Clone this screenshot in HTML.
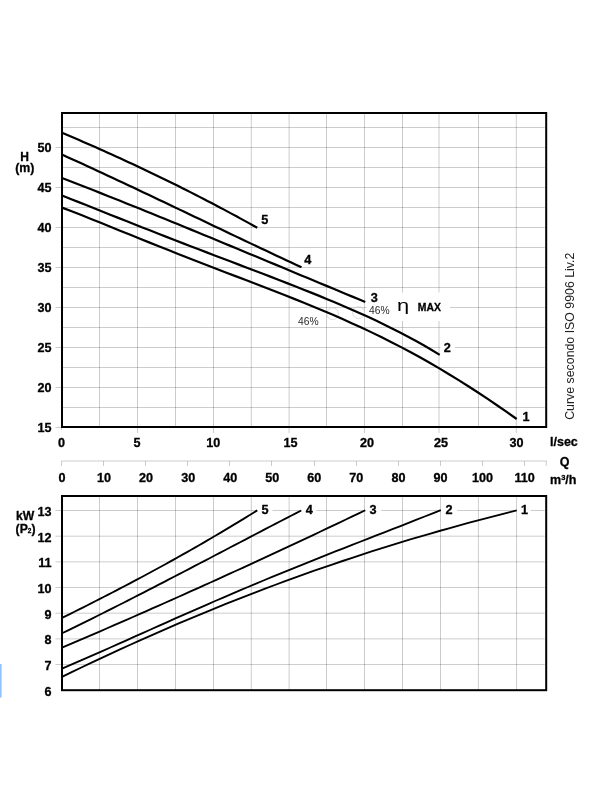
<!DOCTYPE html>
<html><head><meta charset="utf-8"><title>Pump curves</title>
<style>
html,body{margin:0;padding:0;background:#fff;}
body{width:600px;height:800px;overflow:hidden;}
svg{display:block;will-change:transform;font-family:"Liberation Sans",sans-serif;}
text{font-family:"Liberation Sans",sans-serif;}
</style></head><body>
<svg width="600" height="800" viewBox="0 0 600 800">
<rect x="0" y="0" width="600" height="800" fill="#fff"/>
<rect x="0" y="664" width="1.6" height="33.6" fill="#8fc3ff"/>
<path d="M99.50 113.00 V433.00 M137.50 113.00 V433.00 M175.50 113.00 V433.00 M213.50 113.00 V433.00 M251.30 113.00 V433.00 M289.10 113.00 V433.00 M326.50 113.00 V433.00 M364.50 113.00 V433.00 M402.50 113.00 V433.00 M439.00 113.00 V433.00 M478.50 113.00 V433.00 M516.30 113.00 V433.00" stroke="#000" stroke-opacity="0.2" stroke-width="1" fill="none"/>
<path d="M62.00 127.50 H544.70 M62.00 147.50 H544.70 M62.00 167.50 H544.70 M62.00 187.50 H544.70 M62.00 207.50 H544.70 M62.00 227.50 H544.70 M62.00 247.50 H544.70 M62.00 267.50 H544.70 M62.00 287.50 H544.70 M62.00 307.50 H544.70 M62.00 327.50 H544.70 M62.00 347.50 H544.70 M62.00 367.50 H544.70 M62.00 387.50 H544.70 M62.00 407.50 H544.70 M55.50 427.50 H62.00 M55.50 387.50 H62.00 M55.50 347.50 H62.00 M55.50 307.50 H62.00 M55.50 267.50 H62.00 M55.50 227.50 H62.00 M55.50 187.50 H62.00 M55.50 147.50 H62.00 M61.50 427.00 V430.00" stroke="#000" stroke-opacity="0.2" stroke-width="1" fill="none"/>
<rect x="98.0" y="428.0" width="3" height="6.5" fill="#fff"/>
<rect x="174.0" y="428.0" width="3" height="6.5" fill="#fff"/>
<rect x="249.8" y="428.0" width="3" height="6.5" fill="#fff"/>
<rect x="325.0" y="428.0" width="3" height="6.5" fill="#fff"/>
<rect x="401.0" y="428.0" width="3" height="6.5" fill="#fff"/>
<rect x="477.0" y="428.0" width="3" height="6.5" fill="#fff"/>
<path d="M99.50 496.00 V690.20 M137.50 496.00 V690.20 M175.50 496.00 V690.20 M213.50 496.00 V690.20 M251.30 496.00 V690.20 M289.10 496.00 V690.20 M326.50 496.00 V690.20 M364.50 496.00 V690.20 M402.50 496.00 V690.20 M440.50 496.00 V690.20 M478.40 496.00 V690.20 M516.60 496.00 V690.20" stroke="#000" stroke-opacity="0.2" stroke-width="1" fill="none"/>
<path d="M55.50 664.53 H544.70 M55.50 638.86 H544.70 M55.50 613.19 H544.70 M55.50 587.52 H544.70 M55.50 561.85 H544.70 M55.50 536.18 H544.70 M55.50 510.51 H544.70" stroke="#000" stroke-opacity="0.2" stroke-width="1" fill="none"/>
<path d="M61.50 461.00 H546.70 M61.50 461.00 V466.00 M103.50 461.00 V466.00 M145.50 461.00 V466.00 M187.50 461.00 V466.00 M229.50 461.00 V466.00 M271.50 461.00 V466.00 M314.50 461.00 V466.00 M356.50 461.00 V466.00 M398.50 461.00 V466.00 M440.50 461.00 V466.00 M482.50 461.00 V466.00 M524.50 461.00 V466.00 M546.20 461.00 V466.00" stroke="#000" stroke-opacity="0.2" stroke-width="1" fill="none"/>
<rect x="366.5" y="292.5" width="83.5" height="28.5" fill="#fff"/>
<rect x="440.5" y="342.0" width="14.5" height="11.5" fill="#fff"/>
<rect x="257.5" y="505.0" width="15.0" height="11.0" fill="#fff"/>
<rect x="301.5" y="505.0" width="14.8" height="11.0" fill="#fff"/>
<rect x="365.6" y="505.0" width="15.7" height="11.0" fill="#fff"/>
<rect x="441.0" y="505.0" width="16.0" height="11.0" fill="#fff"/>
<rect x="517.0" y="505.0" width="13.7" height="11.0" fill="#fff"/>
<circle cx="332.5" cy="313.7" r="5.9" fill="none" stroke="#cfcfcf" stroke-width="0.7"/>
<circle cx="358.5" cy="312.6" r="5.9" fill="none" stroke="#cfcfcf" stroke-width="0.7"/>
<path d="M62.00 132.75 L66.15 134.51 L70.31 136.28 L74.46 138.06 L78.62 139.85 L82.77 141.64 L86.93 143.45 L91.08 145.27 L95.23 147.11 L99.39 148.95 L103.54 150.80 L107.70 152.66 L111.85 154.54 L116.01 156.42 L120.16 158.32 L124.31 160.23 L128.47 162.15 L132.62 164.08 L136.78 166.02 L140.93 167.98 L145.09 169.95 L149.24 171.92 L153.39 173.91 L157.55 175.92 L161.70 177.93 L165.86 179.96 L170.01 181.99 L174.16 184.05 L178.32 186.11 L182.47 188.18 L186.63 190.27 L190.78 192.37 L194.94 194.49 L199.09 196.61 L203.24 198.75 L207.40 200.91 L211.55 203.07 L215.71 205.25 L219.86 207.44 L224.02 209.65 L228.17 211.87 L232.32 214.10 L236.48 216.34 L240.63 218.60 L244.79 220.88 L248.94 223.16 L253.10 225.47 L257.25 227.78" stroke="#000" stroke-width="2.20" fill="none" stroke-linejoin="round"/>
<path d="M62.00 154.59 L67.10 156.89 L72.19 159.21 L77.29 161.53 L82.38 163.86 L87.48 166.20 L92.57 168.55 L97.67 170.90 L102.77 173.26 L107.86 175.64 L112.96 178.01 L118.05 180.40 L123.15 182.79 L128.24 185.18 L133.34 187.59 L138.44 189.99 L143.53 192.40 L148.63 194.82 L153.72 197.24 L158.82 199.66 L163.91 202.08 L169.01 204.51 L174.11 206.94 L179.20 209.37 L184.30 211.80 L189.39 214.24 L194.49 216.67 L199.59 219.11 L204.68 221.54 L209.78 223.98 L214.87 226.41 L219.97 228.84 L225.06 231.27 L230.16 233.70 L235.26 236.12 L240.35 238.55 L245.45 240.97 L250.54 243.38 L255.64 245.79 L260.73 248.20 L265.83 250.60 L270.93 253.00 L276.02 255.39 L281.12 257.78 L286.21 260.16 L291.31 262.53 L296.40 264.89 L301.50 267.25" stroke="#000" stroke-width="2.20" fill="none" stroke-linejoin="round"/>
<path d="M62.00 178.02 L68.45 180.51 L74.90 183.01 L81.36 185.52 L87.81 188.05 L94.26 190.58 L100.71 193.13 L107.16 195.68 L113.62 198.24 L120.07 200.82 L126.52 203.40 L132.97 205.99 L139.43 208.59 L145.88 211.19 L152.33 213.80 L158.78 216.42 L165.23 219.05 L171.69 221.68 L178.14 224.32 L184.59 226.97 L191.04 229.61 L197.49 232.27 L203.95 234.93 L210.40 237.59 L216.85 240.26 L223.30 242.93 L229.76 245.61 L236.21 248.28 L242.66 250.96 L249.11 253.65 L255.56 256.33 L262.02 259.02 L268.47 261.70 L274.92 264.39 L281.37 267.08 L287.82 269.77 L294.28 272.46 L300.73 275.15 L307.18 277.84 L313.63 280.52 L320.09 283.21 L326.54 285.89 L332.99 288.58 L339.44 291.26 L345.89 293.93 L352.35 296.61 L358.80 299.28 L365.25 301.94" stroke="#000" stroke-width="2.20" fill="none" stroke-linejoin="round"/>
<path d="M62.00 195.51 L70.04 198.68 L78.07 201.86 L86.11 205.06 L94.15 208.26 L102.19 211.46 L110.22 214.66 L118.26 217.86 L126.30 221.05 L134.34 224.24 L142.37 227.41 L150.41 230.57 L158.45 233.73 L166.48 236.87 L174.52 239.99 L182.56 243.11 L190.60 246.21 L198.63 249.30 L206.67 252.38 L214.71 255.45 L222.74 258.51 L230.78 261.57 L238.82 264.63 L246.86 267.69 L254.89 270.75 L262.93 273.82 L270.97 276.90 L279.01 279.99 L287.04 283.10 L295.08 286.24 L303.12 289.41 L311.15 292.62 L319.19 295.87 L327.23 299.17 L335.27 302.52 L343.30 305.93 L351.34 309.42 L359.38 312.98 L367.41 316.62 L375.45 320.37 L383.49 324.21 L391.53 328.17 L399.56 332.24 L407.60 336.45 L415.64 340.80 L423.68 345.31 L431.71 349.98 L439.75 354.82" stroke="#000" stroke-width="2.20" fill="none" stroke-linejoin="round"/>
<path d="M62.00 207.63 L71.67 211.32 L81.35 215.10 L91.02 218.94 L100.70 222.82 L110.37 226.73 L120.05 230.65 L129.72 234.57 L139.40 238.48 L149.07 242.38 L158.74 246.25 L168.42 250.10 L178.09 253.93 L187.77 257.72 L197.44 261.49 L207.12 265.24 L216.79 268.96 L226.47 272.68 L236.14 276.38 L245.81 280.08 L255.49 283.79 L265.16 287.52 L274.84 291.27 L284.51 295.05 L294.19 298.88 L303.86 302.77 L313.54 306.72 L323.21 310.74 L332.89 314.86 L342.56 319.07 L352.23 323.38 L361.91 327.82 L371.58 332.38 L381.26 337.07 L390.93 341.91 L400.61 346.89 L410.28 352.03 L419.96 357.32 L429.63 362.78 L439.30 368.41 L448.98 374.19 L458.65 380.14 L468.33 386.26 L478.00 392.53 L487.68 398.95 L497.35 405.51 L507.03 412.20 L516.70 419.01" stroke="#000" stroke-width="2.20" fill="none" stroke-linejoin="round"/>
<path d="M62.00 617.90 L66.15 615.85 L70.31 613.80 L74.46 611.73 L78.62 609.66 L82.77 607.58 L86.93 605.49 L91.08 603.39 L95.23 601.28 L99.39 599.16 L103.54 597.04 L107.70 594.90 L111.85 592.76 L116.01 590.61 L120.16 588.44 L124.31 586.27 L128.47 584.08 L132.62 581.89 L136.78 579.68 L140.93 577.47 L145.09 575.24 L149.24 573.00 L153.39 570.75 L157.55 568.49 L161.70 566.22 L165.86 563.94 L170.01 561.64 L174.16 559.33 L178.32 557.01 L182.47 554.68 L186.63 552.34 L190.78 549.98 L194.94 547.61 L199.09 545.22 L203.24 542.83 L207.40 540.42 L211.55 537.99 L215.71 535.55 L219.86 533.10 L224.02 530.64 L228.17 528.15 L232.32 525.66 L236.48 523.15 L240.63 520.63 L244.79 518.09 L248.94 515.53 L253.10 512.96 L257.25 510.38" stroke="#000" stroke-width="1.85" fill="none" stroke-linejoin="round"/>
<path d="M62.00 633.29 L67.09 630.83 L72.18 628.35 L77.27 625.85 L82.36 623.35 L87.45 620.84 L92.54 618.31 L97.63 615.77 L102.72 613.23 L107.81 610.67 L112.90 608.11 L117.99 605.54 L123.09 602.96 L128.18 600.37 L133.27 597.77 L138.36 595.17 L143.45 592.56 L148.54 589.94 L153.63 587.32 L158.72 584.69 L163.81 582.06 L168.90 579.42 L173.99 576.78 L179.08 574.13 L184.17 571.48 L189.26 568.83 L194.35 566.18 L199.44 563.52 L204.53 560.86 L209.62 558.20 L214.71 555.53 L219.80 552.87 L224.89 550.21 L229.98 547.55 L235.07 544.88 L240.16 542.22 L245.26 539.56 L250.35 536.90 L255.44 534.24 L260.53 531.59 L265.62 528.94 L270.71 526.29 L275.80 523.64 L280.89 521.00 L285.98 518.36 L291.07 515.73 L296.16 513.10 L301.25 510.48" stroke="#000" stroke-width="1.85" fill="none" stroke-linejoin="round"/>
<path d="M62.00 647.72 L68.45 644.96 L74.90 642.19 L81.36 639.42 L87.81 636.64 L94.26 633.86 L100.71 631.06 L107.16 628.26 L113.62 625.46 L120.07 622.64 L126.52 619.82 L132.97 616.99 L139.43 614.16 L145.88 611.31 L152.33 608.46 L158.78 605.61 L165.23 602.74 L171.69 599.87 L178.14 596.99 L184.59 594.11 L191.04 591.21 L197.49 588.31 L203.95 585.40 L210.40 582.49 L216.85 579.56 L223.30 576.63 L229.76 573.69 L236.21 570.75 L242.66 567.79 L249.11 564.83 L255.56 561.87 L262.02 558.89 L268.47 555.91 L274.92 552.91 L281.37 549.91 L287.82 546.91 L294.28 543.89 L300.73 540.87 L307.18 537.84 L313.63 534.80 L320.09 531.76 L326.54 528.71 L332.99 525.64 L339.44 522.58 L345.89 519.50 L352.35 516.41 L358.80 513.32 L365.25 510.22" stroke="#000" stroke-width="1.85" fill="none" stroke-linejoin="round"/>
<path d="M62.00 668.62 L70.06 665.18 L78.12 661.69 L86.18 658.18 L94.24 654.64 L102.30 651.08 L110.36 647.50 L118.42 643.91 L126.48 640.31 L134.54 636.70 L142.60 633.10 L150.66 629.49 L158.71 625.89 L166.77 622.30 L174.83 618.71 L182.89 615.14 L190.95 611.59 L199.01 608.05 L207.07 604.53 L215.13 601.02 L223.19 597.54 L231.25 594.09 L239.31 590.65 L247.37 587.24 L255.43 583.85 L263.49 580.49 L271.55 577.15 L279.61 573.83 L287.67 570.54 L295.73 567.27 L303.79 564.02 L311.85 560.79 L319.91 557.58 L327.97 554.39 L336.03 551.21 L344.09 548.05 L352.14 544.90 L360.20 541.75 L368.26 538.61 L376.32 535.48 L384.38 532.34 L392.44 529.20 L400.50 526.05 L408.56 522.89 L416.62 519.71 L424.68 516.51 L432.74 513.29 L440.80 510.04" stroke="#000" stroke-width="1.85" fill="none" stroke-linejoin="round"/>
<path d="M62.00 676.88 L71.67 672.17 L81.35 667.52 L91.02 662.91 L100.70 658.35 L110.37 653.84 L120.05 649.39 L129.72 644.98 L139.40 640.62 L149.07 636.31 L158.74 632.06 L168.42 627.85 L178.09 623.70 L187.77 619.59 L197.44 615.54 L207.12 611.54 L216.79 607.59 L226.47 603.70 L236.14 599.86 L245.81 596.06 L255.49 592.32 L265.16 588.64 L274.84 585.00 L284.51 581.42 L294.19 577.88 L303.86 574.40 L313.54 570.97 L323.21 567.60 L332.89 564.27 L342.56 561.00 L352.23 557.77 L361.91 554.60 L371.58 551.47 L381.26 548.40 L390.93 545.38 L400.61 542.40 L410.28 539.48 L419.96 536.60 L429.63 533.78 L439.30 531.00 L448.98 528.27 L458.65 525.58 L468.33 522.95 L478.00 520.35 L487.68 517.81 L497.35 515.31 L507.03 512.85 L516.70 510.44" stroke="#000" stroke-width="1.85" fill="none" stroke-linejoin="round"/>
<rect x="62.00" y="113.00" width="484.20" height="314.00" fill="none" stroke="#000" stroke-width="2.00"/>
<rect x="62.00" y="496.00" width="484.20" height="194.20" fill="none" stroke="#000" stroke-width="2.00"/>
<text transform="translate(51.60,431.60) scale(1.060,1)" font-size="11.90" font-weight="bold" text-anchor="end"  stroke="#000" stroke-width="0.3" stroke-linejoin="round">15</text>
<text transform="translate(51.60,391.60) scale(1.060,1)" font-size="11.90" font-weight="bold" text-anchor="end"  stroke="#000" stroke-width="0.3" stroke-linejoin="round">20</text>
<text transform="translate(51.60,351.60) scale(1.060,1)" font-size="11.90" font-weight="bold" text-anchor="end"  stroke="#000" stroke-width="0.3" stroke-linejoin="round">25</text>
<text transform="translate(51.60,311.60) scale(1.060,1)" font-size="11.90" font-weight="bold" text-anchor="end"  stroke="#000" stroke-width="0.3" stroke-linejoin="round">30</text>
<text transform="translate(51.60,271.60) scale(1.060,1)" font-size="11.90" font-weight="bold" text-anchor="end"  stroke="#000" stroke-width="0.3" stroke-linejoin="round">35</text>
<text transform="translate(51.60,231.60) scale(1.060,1)" font-size="11.90" font-weight="bold" text-anchor="end"  stroke="#000" stroke-width="0.3" stroke-linejoin="round">40</text>
<text transform="translate(51.60,191.60) scale(1.060,1)" font-size="11.90" font-weight="bold" text-anchor="end"  stroke="#000" stroke-width="0.3" stroke-linejoin="round">45</text>
<text transform="translate(51.60,151.60) scale(1.060,1)" font-size="11.90" font-weight="bold" text-anchor="end"  stroke="#000" stroke-width="0.3" stroke-linejoin="round">50</text>
<text transform="translate(24.50,160.60) scale(1.000,1)" font-size="12.00" font-weight="bold" text-anchor="middle"  stroke="#000" stroke-width="0.3" stroke-linejoin="round">H</text>
<text transform="translate(24.80,172.00) scale(1.030,1)" font-size="12.00" font-weight="bold" text-anchor="middle"  stroke="#000" stroke-width="0.3" stroke-linejoin="round">(m)</text>
<text transform="translate(61.50,446.90) scale(1.060,1)" font-size="11.90" font-weight="bold" text-anchor="middle"  stroke="#000" stroke-width="0.3" stroke-linejoin="round">0</text>
<text transform="translate(137.10,446.90) scale(1.060,1)" font-size="11.90" font-weight="bold" text-anchor="middle"  stroke="#000" stroke-width="0.3" stroke-linejoin="round">5</text>
<text transform="translate(213.30,446.90) scale(1.060,1)" font-size="11.90" font-weight="bold" text-anchor="middle"  stroke="#000" stroke-width="0.3" stroke-linejoin="round">10</text>
<text transform="translate(290.60,446.90) scale(1.060,1)" font-size="11.90" font-weight="bold" text-anchor="middle"  stroke="#000" stroke-width="0.3" stroke-linejoin="round">15</text>
<text transform="translate(367.00,446.90) scale(1.060,1)" font-size="11.90" font-weight="bold" text-anchor="middle"  stroke="#000" stroke-width="0.3" stroke-linejoin="round">20</text>
<text transform="translate(441.10,446.90) scale(1.060,1)" font-size="11.90" font-weight="bold" text-anchor="middle"  stroke="#000" stroke-width="0.3" stroke-linejoin="round">25</text>
<text transform="translate(516.40,446.90) scale(1.060,1)" font-size="11.90" font-weight="bold" text-anchor="middle"  stroke="#000" stroke-width="0.3" stroke-linejoin="round">30</text>
<text transform="translate(550.00,446.30) scale(1.000,1)" font-size="12.50" font-weight="bold" text-anchor="start"  stroke="#000" stroke-width="0.3" stroke-linejoin="round">l/sec</text>
<text transform="translate(564.50,465.50) scale(1.000,1)" font-size="12.50" font-weight="bold" text-anchor="middle"  stroke="#000" stroke-width="0.3" stroke-linejoin="round">Q</text>
<text transform="translate(550.00,484.00) scale(1.000,1)" font-size="12.50" font-weight="bold" text-anchor="start"  stroke="#000" stroke-width="0.3" stroke-linejoin="round">m<tspan font-size="7.5" dy="-4.5">3</tspan><tspan dy="4.5">/h</tspan></text>
<text transform="translate(62.00,481.90) scale(1.060,1)" font-size="11.90" font-weight="bold" text-anchor="middle"  stroke="#000" stroke-width="0.3" stroke-linejoin="round">0</text>
<text transform="translate(104.05,481.90) scale(1.060,1)" font-size="11.90" font-weight="bold" text-anchor="middle"  stroke="#000" stroke-width="0.3" stroke-linejoin="round">10</text>
<text transform="translate(146.10,481.90) scale(1.060,1)" font-size="11.90" font-weight="bold" text-anchor="middle"  stroke="#000" stroke-width="0.3" stroke-linejoin="round">20</text>
<text transform="translate(188.15,481.90) scale(1.060,1)" font-size="11.90" font-weight="bold" text-anchor="middle"  stroke="#000" stroke-width="0.3" stroke-linejoin="round">30</text>
<text transform="translate(230.20,481.90) scale(1.060,1)" font-size="11.90" font-weight="bold" text-anchor="middle"  stroke="#000" stroke-width="0.3" stroke-linejoin="round">40</text>
<text transform="translate(272.25,481.90) scale(1.060,1)" font-size="11.90" font-weight="bold" text-anchor="middle"  stroke="#000" stroke-width="0.3" stroke-linejoin="round">50</text>
<text transform="translate(314.30,481.90) scale(1.060,1)" font-size="11.90" font-weight="bold" text-anchor="middle"  stroke="#000" stroke-width="0.3" stroke-linejoin="round">60</text>
<text transform="translate(356.35,481.90) scale(1.060,1)" font-size="11.90" font-weight="bold" text-anchor="middle"  stroke="#000" stroke-width="0.3" stroke-linejoin="round">70</text>
<text transform="translate(398.40,481.90) scale(1.060,1)" font-size="11.90" font-weight="bold" text-anchor="middle"  stroke="#000" stroke-width="0.3" stroke-linejoin="round">80</text>
<text transform="translate(440.45,481.90) scale(1.060,1)" font-size="11.90" font-weight="bold" text-anchor="middle"  stroke="#000" stroke-width="0.3" stroke-linejoin="round">90</text>
<text transform="translate(482.50,481.90) scale(1.060,1)" font-size="11.90" font-weight="bold" text-anchor="middle"  stroke="#000" stroke-width="0.3" stroke-linejoin="round">100</text>
<text transform="translate(524.55,481.90) scale(1.060,1)" font-size="11.90" font-weight="bold" text-anchor="middle"  stroke="#000" stroke-width="0.3" stroke-linejoin="round">110</text>
<text transform="translate(51.60,695.80) scale(1.060,1)" font-size="11.90" font-weight="bold" text-anchor="end"  stroke="#000" stroke-width="0.3" stroke-linejoin="round">6</text>
<text transform="translate(51.60,670.13) scale(1.060,1)" font-size="11.90" font-weight="bold" text-anchor="end"  stroke="#000" stroke-width="0.3" stroke-linejoin="round">7</text>
<text transform="translate(51.60,644.46) scale(1.060,1)" font-size="11.90" font-weight="bold" text-anchor="end"  stroke="#000" stroke-width="0.3" stroke-linejoin="round">8</text>
<text transform="translate(51.60,618.79) scale(1.060,1)" font-size="11.90" font-weight="bold" text-anchor="end"  stroke="#000" stroke-width="0.3" stroke-linejoin="round">9</text>
<text transform="translate(51.60,593.12) scale(1.060,1)" font-size="11.90" font-weight="bold" text-anchor="end"  stroke="#000" stroke-width="0.3" stroke-linejoin="round">10</text>
<text transform="translate(51.60,567.45) scale(1.060,1)" font-size="11.90" font-weight="bold" text-anchor="end"  stroke="#000" stroke-width="0.3" stroke-linejoin="round">11</text>
<text transform="translate(51.60,541.78) scale(1.060,1)" font-size="11.90" font-weight="bold" text-anchor="end"  stroke="#000" stroke-width="0.3" stroke-linejoin="round">12</text>
<text transform="translate(51.60,516.11) scale(1.060,1)" font-size="11.90" font-weight="bold" text-anchor="end"  stroke="#000" stroke-width="0.3" stroke-linejoin="round">13</text>
<text transform="translate(16.00,520.00) scale(1.000,1)" font-size="12.20" font-weight="bold" text-anchor="start"  stroke="#000" stroke-width="0.3" stroke-linejoin="round">kW</text>
<text transform="translate(15.60,533.20) scale(1.000,1)" font-size="12.20" font-weight="bold" text-anchor="start"  stroke="#000" stroke-width="0.3" stroke-linejoin="round">(P<tspan font-size="6.5" dy="0">2</tspan><tspan dy="0">)</tspan></text>
<text transform="translate(264.70,224.00) scale(1.060,1)" font-size="12.00" font-weight="bold" text-anchor="middle"  stroke="#000" stroke-width="0.3" stroke-linejoin="round">5</text>
<text transform="translate(307.90,263.70) scale(1.060,1)" font-size="12.00" font-weight="bold" text-anchor="middle"  stroke="#000" stroke-width="0.3" stroke-linejoin="round">4</text>
<text transform="translate(374.40,301.90) scale(1.060,1)" font-size="12.00" font-weight="bold" text-anchor="middle"  stroke="#000" stroke-width="0.3" stroke-linejoin="round">3</text>
<text transform="translate(447.30,351.90) scale(1.060,1)" font-size="12.00" font-weight="bold" text-anchor="middle"  stroke="#000" stroke-width="0.3" stroke-linejoin="round">2</text>
<text transform="translate(526.00,420.50) scale(1.060,1)" font-size="12.00" font-weight="bold" text-anchor="middle"  stroke="#000" stroke-width="0.3" stroke-linejoin="round">1</text>
<text transform="translate(379.40,313.90) scale(1.000,1)" font-size="10.30" font-weight="normal" text-anchor="middle" fill="#2a2a2a">46%</text>
<text transform="translate(308.40,324.70) scale(1.000,1)" font-size="10.30" font-weight="normal" text-anchor="middle" fill="#2a2a2a">46%</text>
<text transform="translate(403.10,311.40) scale(1.300,1)" font-size="16.80" font-weight="normal" text-anchor="middle" font-family="Liberation Serif">&#951;</text>
<text transform="translate(429.40,310.80) scale(0.990,1)" font-size="10.50" font-weight="bold" text-anchor="middle"  stroke="#000" stroke-width="0.3" stroke-linejoin="round">MAX</text>
<text transform="translate(265.00,514.20) scale(1.060,1)" font-size="12.00" font-weight="bold" text-anchor="middle"  stroke="#000" stroke-width="0.3" stroke-linejoin="round">5</text>
<text transform="translate(309.20,514.20) scale(1.060,1)" font-size="12.00" font-weight="bold" text-anchor="middle"  stroke="#000" stroke-width="0.3" stroke-linejoin="round">4</text>
<text transform="translate(373.10,514.20) scale(1.060,1)" font-size="12.00" font-weight="bold" text-anchor="middle"  stroke="#000" stroke-width="0.3" stroke-linejoin="round">3</text>
<text transform="translate(449.10,514.20) scale(1.060,1)" font-size="12.00" font-weight="bold" text-anchor="middle"  stroke="#000" stroke-width="0.3" stroke-linejoin="round">2</text>
<text transform="translate(524.60,514.20) scale(1.060,1)" font-size="12.00" font-weight="bold" text-anchor="middle"  stroke="#000" stroke-width="0.3" stroke-linejoin="round">1</text>
<text transform="translate(574.3,419.8) rotate(-90)" font-size="12.35" font-weight="normal" fill="#222">Curve secondo ISO 9906 Liv.2</text>
</svg>
</body></html>
